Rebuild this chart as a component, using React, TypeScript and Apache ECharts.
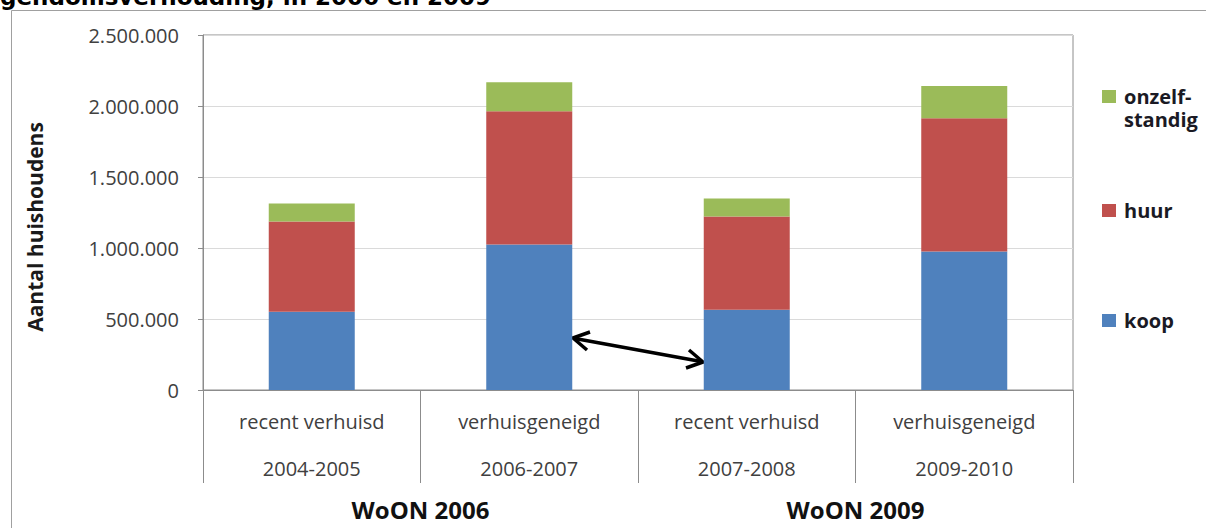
import React, { useEffect, useRef } from 'react';
import * as echarts from 'echarts';

const categories = ['recent verhuisd', 'verhuisgeneigd', 'recent verhuisd', 'verhuisgeneigd'];
const periods = ['2004-2005', '2006-2007', '2007-2008', '2009-2010'];
const surveys = ['WoON 2006', 'WoON 2009'];
const koop = [551000, 1024000, 565000, 975000];
const huur = [635000, 939000, 657000, 939000];
const onzelfstandig = [128000, 205000, 127000, 226000];
const yMax = 2500000;
const yInterval = 500000;
const titleText = 'gendomsverhouding, in 2006 en 2009';
const yTitle = 'Aantal huishoudens';

const FONT = '"Open Sans", "Liberation Sans", sans-serif';
const fmt = (v: number) => String(v).replace(/\B(?=(\d{3})+(?!\d))/g, '.');

export default function App() {
  const ref = useRef<HTMLDivElement>(null);
  useEffect(() => {
    if (!ref.current) return;
    const chart = echarts.init(ref.current, undefined, { renderer: 'svg' });
    const legendText = {
      fontFamily: FONT,
      fontWeight: 'bold' as const,
      fontSize: 20,
      lineHeight: 23,
      color: '#1a1a24',
      padding: [0, 0, 0, 3],
    };
    chart.setOption({
      animation: false,
      backgroundColor: '#ffffff',
      grid: {
        left: 203,
        right: 133,
        top: 35,
        bottom: 138,
        show: true,
        borderColor: '#8c8c8c',
        borderWidth: 1,
        backgroundColor: 'transparent',
      },
      legend: [
        {
          data: ['onzelfstandig'],
          left: 1102,
          top: 85,
          padding: 0,
          icon: 'path://M0,0L14,0L14,13L0,13Z M0,36L0.01,36L0.01,35.99Z',
          itemWidth: 14,
          itemHeight: 36,
          selectedMode: false,
          formatter: () => 'onzelf-\nstandig',
          textStyle: legendText,
        },
        {
          data: ['huur'],
          left: 1102,
          top: 199,
          padding: 0,
          icon: 'rect',
          itemWidth: 14,
          itemHeight: 13,
          selectedMode: false,
          textStyle: legendText,
        },
        {
          data: ['koop'],
          left: 1102,
          top: 309,
          padding: 0,
          icon: 'rect',
          itemWidth: 14,
          itemHeight: 13,
          selectedMode: false,
          textStyle: legendText,
        },
      ],
      xAxis: [
        {
          type: 'category',
          data: periods,
          axisLine: { show: true, lineStyle: { color: '#8c8c8c', width: 1 } },
          axisTick: { show: true, length: 93, interval: 0, lineStyle: { color: '#8c8c8c' } },
          axisLabel: {
            interval: 0,
            margin: 8,
            lineHeight: 47,
            fontFamily: FONT,
            fontSize: 20,
            color: '#404040',
            formatter: (v: string, i: number) => `${categories[i]}\n${v}`,
          },
          splitLine: { show: false },
        },
        {
          type: 'category',
          data: surveys,
          position: 'bottom',
          axisLine: { show: false },
          axisTick: { show: false },
          axisLabel: {
            interval: 0,
            margin: 107,
            fontFamily: FONT,
            fontWeight: 'bold',
            fontSize: 24,
            color: '#111111',
          },
          splitLine: { show: false },
        },
      ],
      yAxis: {
        type: 'value',
        min: 0,
        max: yMax,
        interval: yInterval,
        axisLine: { show: true, lineStyle: { color: '#8c8c8c', width: 1 } },
        axisTick: { show: true, length: 5, lineStyle: { color: '#8c8c8c' } },
        splitLine: { show: true, lineStyle: { color: '#dadada', width: 1 } },
        axisLabel: {
          margin: 24,
          fontFamily: FONT,
          fontSize: 20,
          color: '#404040',
          formatter: (v: number) => fmt(v),
        },
      },
      series: [
        {
          name: 'koop',
          type: 'bar',
          stack: 'total',
          barWidth: 86,
          data: koop,
          itemStyle: { color: '#4f81bd' },
        },
        {
          name: 'huur',
          type: 'bar',
          stack: 'total',
          barWidth: 86,
          data: huur,
          itemStyle: { color: '#c0504d' },
        },
        {
          name: 'onzelfstandig',
          type: 'bar',
          stack: 'total',
          barWidth: 86,
          data: onzelfstandig,
          itemStyle: { color: '#9bbb59' },
        },
      ],
      graphic: [
        {
          type: 'rect',
          z: -10,
          silent: true,
          shape: { x: 11.5, y: 10.5, width: 1300, height: 600 },
          style: { fill: 'none', stroke: '#a0a0a0', lineWidth: 1 },
        },
        {
          type: 'text',
          x: 0,
          y: -3,
          silent: true,
          style: {
            text: titleText,
            font: 'bold 23px "DejaVu Sans", sans-serif',
            fill: '#000000',
            align: 'left',
            verticalAlign: 'middle',
          },
        },
        {
          type: 'text',
          x: 35,
          y: 227,
          rotation: Math.PI / 2,
          silent: true,
          style: {
            text: yTitle,
            font: `bold 21px ${FONT}`,
            fill: '#1a1a1a',
            align: 'center',
            verticalAlign: 'middle',
          },
        },
        {
          type: 'line',
          silent: true,
          shape: { x1: 575, y1: 338.5, x2: 701, y2: 361.5 },
          style: { stroke: '#000000', lineWidth: 3.5 },
        },
        {
          type: 'polyline',
          silent: true,
          shape: { points: [[590, 332], [573, 338], [587, 350]] },
          style: { stroke: '#000000', lineWidth: 3.5, fill: 'none', lineJoin: 'miter' },
        },
        {
          type: 'polyline',
          silent: true,
          shape: { points: [[689, 350], [703, 362], [686, 368]] },
          style: { stroke: '#000000', lineWidth: 3.5, fill: 'none', lineJoin: 'miter' },
        },
      ],
    });
    return () => chart.dispose();
  }, []);
  return (
    <div
      ref={ref}
      style={{ position: 'fixed', left: 0, top: 0, width: 1206, height: 528, background: '#fff' }}
    />
  );
}
